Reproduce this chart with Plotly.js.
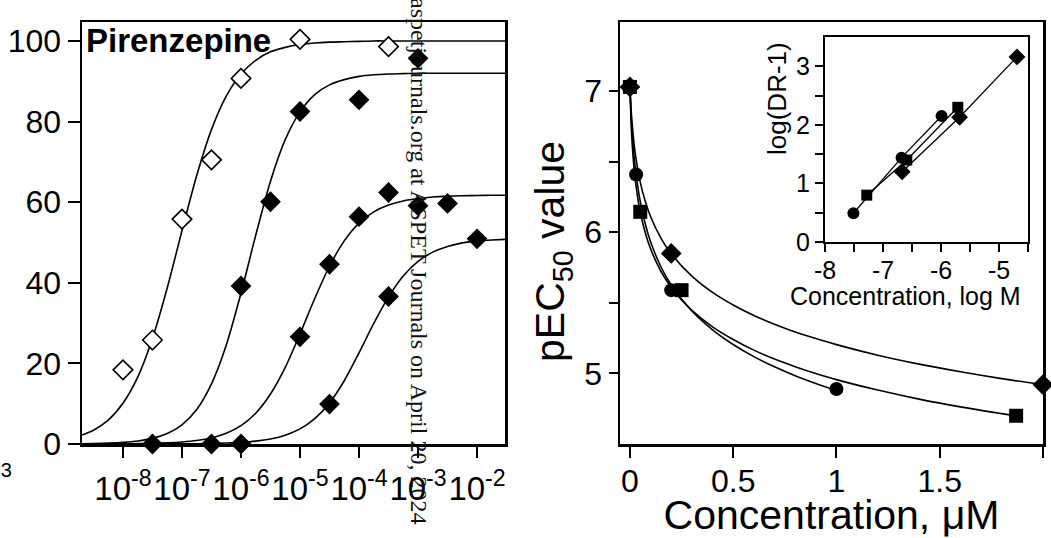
<!DOCTYPE html>
<html>
<head>
<meta charset="utf-8">
<script src="https://cdn.plot.ly/plotly-3.0.1.min.js"></script>
<style>html,body{margin:0;padding:0;background:#fff;}#chart{width:1051px;height:538px;}</style>
</head>
<body>
<div id="chart"></div>
<script>
// ---------- Left panel: concentration-response curves (log M) ----------
const leftTickVals = [1e-8, 1e-7, 1e-6, 1e-5, 1e-4, 1e-3, 1e-2];
const leftTickText = ['10<sup>-8</sup>', '10<sup>-7</sup>', '10<sup>-6</sup>', '10<sup>-5</sup>', '10<sup>-4</sup>', '10<sup>-3</sup>', '10<sup>-2</sup>'];
const leftYTicks = [0, 20, 40, 60, 80, 100];

// fitted curves (log concentration, % response)
const curveLogX = [-8.7, -8.5, -8.25, -8, -7.75, -7.5, -7.25, -7, -6.75, -6.5, -6.25, -6, -5.75, -5.5, -5.25, -5, -4.75, -4.5, -4.25, -4, -3.75, -3.5, -3.25, -3, -2.75, -2.5, -2.25, -2, -1.75, -1.5];
const curveControl = [2.2, 3.4, 5.9, 10.1, 16.6, 26.2, 38.7, 52.9, 66.6, 78.0, 86.3, 91.8, 95.2, 97.3, 98.4, 99.1, 99.5, 99.7, 99.8, 99.9, 100, 100, 100, 100, 100, 100, 100, 100, 100, 100];
const curvePz1 = [0.07, 0.11, 0.21, 0.4, 0.74, 1.39, 2.58, 4.74, 8.54, 14.9, 24.5, 37.4, 51.8, 65.2, 75.5, 82.4, 86.7, 89.1, 90.4, 91.2, 91.6, 91.8, 91.9, 92, 92, 92, 92, 92, 92, 92];
const curvePz2 = [0.01, 0.02, 0.03, 0.05, 0.09, 0.15, 0.27, 0.49, 0.86, 1.51, 2.64, 4.54, 7.64, 12.4, 19.0, 27.3, 36.1, 44.1, 50.4, 54.8, 57.6, 59.3, 60.3, 60.9, 61.3, 61.5, 61.6, 61.65, 61.7, 61.7];
const curvePz3 = [0, 0, 0, 0.01, 0.01, 0.01, 0.02, 0.04, 0.07, 0.13, 0.23, 0.40, 0.71, 1.25, 2.18, 3.75, 6.31, 10.2, 15.7, 22.6, 29.9, 36.5, 41.7, 45.3, 47.6, 49.0, 49.9, 50.4, 50.6, 50.8];

// measured points
const controlLogX = [-8, -7.5, -7, -6.5, -6, -5, -3.5];
const controlY = [18.4, 25.8, 55.8, 70.5, 90.7, 100.4, 98.6];
const pz1LogX = [-7.5, -6, -5.5, -5, -4, -3];
const pz1Y = [0, 39.2, 60.1, 82.5, 85.4, 95.7];
const pz2LogX = [-6.5, -5, -4.5, -4, -3.5, -3, -2.5];
const pz2Y = [0, 26.6, 44.6, 56.4, 62.4, 59.1, 59.7];
const pz3LogX = [-6, -4.5, -3.5, -2, -1.5];
const pz3Y = [0, 9.9, 36.6, 50.9, 50.9];

// ---------- Right panel: pEC50 vs antagonist concentration (µM) ----------
const rightXTicks = [0, 0.5, 1, 1.5, 2];
const rightXText = ['0', '0.5', '1', '1.5', '2'];
const rightYTicks = [5, 6, 7];
const rightYMinor = [5.5, 6.5];

const circX = [0, 0.03, 0.2, 1.0];
const circY = [7.03, 6.41, 5.59, 4.89];
const sqX = [0, 0.05, 0.25, 1.87];
const sqY = [7.03, 6.145, 5.59, 4.70];
const diaX = [0, 0.2, 2.0];
const diaY = [7.03, 5.85, 4.92];

const circCurveX = [0, 0.005, 0.01, 0.02, 0.03, 0.05, 0.075, 0.1, 0.15, 0.2, 0.3, 0.4, 0.5, 0.6, 0.7, 0.8, 0.9, 1.0];
const circCurveY = [7.03, 6.854, 6.725, 6.54, 6.408, 6.219, 6.055, 5.933, 5.756, 5.627, 5.442, 5.309, 5.205, 5.119, 5.047, 4.984, 4.929, 4.879];
const sqCurveX = [0, 0.005, 0.01, 0.02, 0.03, 0.05, 0.075, 0.1, 0.15, 0.2, 0.25, 0.3, 0.4, 0.5, 0.6, 0.7, 0.8, 0.9, 1.0, 1.2, 1.4, 1.6, 1.8, 1.87];
const sqCurveY = [7.03, 6.798, 6.65, 6.455, 6.324, 6.144, 5.993, 5.883, 5.724, 5.61, 5.52, 5.447, 5.33, 5.24, 5.165, 5.102, 5.048, 5.0, 4.956, 4.882, 4.818, 4.763, 4.715, 4.699];
const diaCurveX = [0, 0.005, 0.01, 0.02, 0.03, 0.05, 0.075, 0.1, 0.15, 0.2, 0.3, 0.4, 0.5, 0.6, 0.7, 0.8, 0.9, 1.0, 1.2, 1.4, 1.6, 1.8, 2.0];
const diaCurveY = [7.03, 6.887, 6.782, 6.628, 6.516, 6.355, 6.216, 6.112, 5.959, 5.848, 5.689, 5.574, 5.485, 5.411, 5.349, 5.294, 5.247, 5.204, 5.129, 5.066, 5.012, 4.963, 4.92];

// ---------- Inset: Schild plot ----------
const insetXTicks = [-8, -7, -6, -5];
const insetXText = ['-8', '-7', '-6', '-5'];
const insetXMinor = [-7.5, -6.5, -5.5, -4.5];
const insetYTicks = [0, 1, 2, 3];
const insetYMinor = [0.5, 1.5, 2.5];
const insetCircX = [-7.51, -6.68, -5.99];
const insetCircY = [0.49, 1.44, 2.15];
const insetSqX = [-7.28, -6.59, -5.71];
const insetSqY = [0.80, 1.40, 2.30];
const insetDiaX = [-6.67, -5.68, -4.69];
const insetDiaY = [1.20, 2.13, 3.16];

// ---------- build ----------
const toConc = a => a.map(v => Math.pow(10, v));
const F = 'Liberation Sans, Arial, sans-serif';
const lineStyle = {color: '#000', width: 1.6, shape: 'spline', smoothing: 0.8};

const traces = [];
[curveControl, curvePz1, curvePz2, curvePz3].forEach(c => traces.push({
  x: toConc(curveLogX), y: c, xaxis: 'x', yaxis: 'y', mode: 'lines', line: lineStyle, hoverinfo: 'skip'
}));
traces.push({x: toConc(controlLogX), y: controlY, xaxis: 'x', yaxis: 'y', mode: 'markers', cliponaxis: false,
  marker: {symbol: 'diamond', size: 15, color: '#fff', line: {color: '#000', width: 1.6}}});
[[pz1LogX, pz1Y], [pz2LogX, pz2Y], [pz3LogX, pz3Y]].forEach(p => traces.push({
  x: toConc(p[0]), y: p[1], xaxis: 'x', yaxis: 'y', mode: 'markers', cliponaxis: false,
  marker: {symbol: 'diamond', size: 16, color: '#000'}
}));

[[circCurveX, circCurveY], [sqCurveX, sqCurveY], [diaCurveX, diaCurveY]].forEach(c => traces.push({
  x: c[0], y: c[1], xaxis: 'x2', yaxis: 'y2', mode: 'lines', line: lineStyle
}));
traces.push({x: circX, y: circY, xaxis: 'x2', yaxis: 'y2', mode: 'markers', cliponaxis: false,
  marker: {symbol: 'circle', size: 14, color: '#000'}});
traces.push({x: sqX, y: sqY, xaxis: 'x2', yaxis: 'y2', mode: 'markers', cliponaxis: false,
  marker: {symbol: 'square', size: 14, color: '#000'}});
traces.push({x: diaX, y: diaY, xaxis: 'x2', yaxis: 'y2', mode: 'markers', cliponaxis: false,
  marker: {symbol: 'diamond', size: 16, color: '#000'}});

traces.push({x: insetCircX, y: insetCircY, xaxis: 'x3', yaxis: 'y3', mode: 'lines+markers', cliponaxis: false,
  line: {color: '#000', width: 1.3}, marker: {symbol: 'circle', size: 12, color: '#000'}});
traces.push({x: insetSqX, y: insetSqY, xaxis: 'x3', yaxis: 'y3', mode: 'lines+markers', cliponaxis: false,
  line: {color: '#000', width: 1.3}, marker: {symbol: 'square', size: 11, color: '#000'}});
traces.push({x: insetDiaX, y: insetDiaY, xaxis: 'x3', yaxis: 'y3', mode: 'lines+markers', cliponaxis: false,
  line: {color: '#000', width: 1.3}, marker: {symbol: 'diamond', size: 13, color: '#000'}});

const W = 1051, H = 538;
const px = v => v / W;
const py = v => (H - v) / H;

const axBase = {showline: true, linecolor: '#000', linewidth: 2.5, mirror: true, ticks: 'outside',
  tickcolor: '#000', tickwidth: 2, showgrid: false, zeroline: false, fixedrange: true};

const layout = {
  width: W, height: H, margin: {l: 0, r: 0, t: 0, b: 0},
  paper_bgcolor: '#fff', plot_bgcolor: 'rgba(0,0,0,0)', showlegend: false,
  font: {family: F, color: '#000'},
  xaxis: Object.assign({}, axBase, {type: 'log', range: [-8.694, -1.526], domain: [px(82), px(505)], anchor: 'y',
    tickvals: leftTickVals, ticktext: leftTickText, ticklen: 11, tickangle: 0, tickfont: {size: 33, family: F}, ticklabelstandoff: 3}),
  yaxis: Object.assign({}, axBase, {range: [0, 104.7], domain: [py(444), py(22)], anchor: 'x',
    tickvals: leftYTicks, ticklen: 12, tickfont: {size: 32, family: F}}),
  xaxis2: Object.assign({}, axBase, {range: [-0.048, 2.0001], domain: [px(620), px(1043)], anchor: 'y2',
    tickvals: rightXTicks, ticktext: rightXText, ticklen: 11, tickangle: 0, tickfont: {size: 32, family: F}, ticklabelstandoff: -4,
    title: {text: 'Concentration, μM', font: {size: 41, family: F}, standoff: 7}}),
  yaxis2: Object.assign({}, axBase, {range: [4.5, 7.49], domain: [py(444), py(22)], anchor: 'x2',
    tickvals: rightYTicks, ticklen: 9, tickfont: {size: 32, family: F},
    minor: {tickvals: rightYMinor, ticks: 'outside', ticklen: 9, tickwidth: 2, tickcolor: '#000'}}),
  xaxis3: Object.assign({}, axBase, {range: [-8, -4.5], domain: [px(825), px(1028)], anchor: 'y3', linewidth: 2.2,
    tickvals: insetXTicks, ticktext: insetXText, ticklen: 8, tickangle: 0, tickfont: {size: 25, family: F}, ticklabelstandoff: -3,
    minor: {tickvals: insetXMinor, ticks: 'outside', ticklen: 8, tickwidth: 2, tickcolor: '#000'}}),
  yaxis3: Object.assign({}, axBase, {range: [0, 3.5], domain: [py(242), py(37)], anchor: 'x3', linewidth: 2.2,
    tickvals: insetYTicks, ticklen: 8, tickfont: {size: 25, family: F},
    minor: {tickvals: insetYMinor, ticks: 'outside', ticklen: 8, tickwidth: 2, tickcolor: '#000'}}),
  annotations: [
    {text: 'Pirenzepine', xref: 'paper', yref: 'paper', x: px(84), y: py(41), xanchor: 'left', yanchor: 'middle',
      showarrow: false, font: {size: 33, family: F, weight: 'bold'}},
    {text: 'pEC<sub>50</sub> value', xref: 'paper', yref: 'paper', x: px(553), y: py(252), xanchor: 'center', yanchor: 'middle',
      textangle: -90, showarrow: false, font: {size: 41, family: F}},
    {text: 'log(DR-1)', xref: 'paper', yref: 'paper', x: px(777), y: py(99), xanchor: 'center', yanchor: 'middle',
      textangle: -90, showarrow: false, font: {size: 26, family: F}},
    {text: 'Concentration, log M', xref: 'paper', yref: 'paper', x: px(905), y: py(296), xanchor: 'center', yanchor: 'middle',
      showarrow: false, font: {size: 25, family: F}},
    {text: '-3', xref: 'paper', yref: 'paper', x: px(14), y: py(470), xanchor: 'right', yanchor: 'middle',
      showarrow: false, font: {size: 20, family: F}},
    {text: 'aspetjournals.org at ASPET Journals on April 20, 2024', xref: 'paper', yref: 'paper',
      x: px(419), y: py(261), xanchor: 'center', yanchor: 'middle', textangle: 90, showarrow: false,
      font: {size: 24, family: 'Liberation Serif, Times New Roman, serif', color: '#111'}}
  ]
};

Plotly.newPlot('chart', traces, layout, {staticPlot: true, displayModeBar: false});
</script>
</body>
</html>
